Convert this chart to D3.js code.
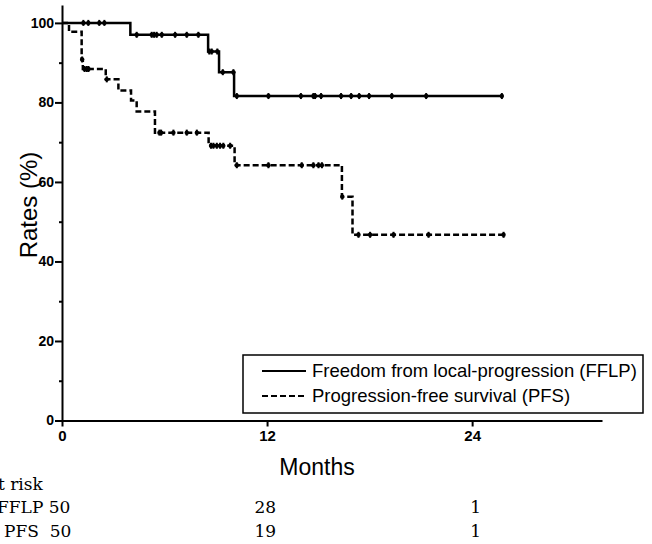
<!DOCTYPE html>
<html>
<head>
<meta charset="utf-8">
<script src="https://cdn.jsdelivr.net/npm/d3@7"></script>
<style>
  body { margin: 0; background: #fff; }
  svg { display: block; }
  .tick text { font-family: "Liberation Sans Narrow", "Arial Narrow", "Liberation Sans", sans-serif; font-weight: bold; }
</style>
</head>
<body>
<div id="chart"></div>
<script>
// Kaplan-Meier steps: [month, rate (%) after the event]
var fflpSteps = [[0, 100], [4.0, 97.0], [8.55, 92.8], [9.19, 87.6], [10.07, 81.6], [25.74, 81.6]];
var pfsSteps = [[0, 100], [0.41, 97.8], [1.15, 90.8], [1.22, 88.4], [2.56, 85.8], [3.30, 83.0],
                [4.04, 80.5], [4.37, 77.7], [5.44, 72.4], [8.58, 69.1], [10.10, 64.2],
                [16.38, 56.3], [17.0, 46.7], [25.84, 46.7]];

// censored observations (months)
var fflpCensored = [1.25, 1.54, 2.18, 2.48, 4.37, 5.25, 5.39, 5.54, 5.84, 6.62, 7.30, 7.98,
                    8.62, 8.76, 9.09, 9.41, 10.03, 10.23, 12.08, 13.98, 14.71, 14.81, 15.16,
                    16.33, 16.92, 17.39, 17.97, 19.30, 21.31, 25.74];
var pfsCensored = [1.18, 1.32, 1.45, 1.55, 2.62, 5.70, 5.80, 6.52, 7.30, 7.89, 8.72, 8.86,
                   9.06, 9.25, 9.44, 9.84, 10.23, 12.08, 14.03, 14.71, 15.01, 15.21, 16.40,
                   17.35, 18.03, 19.40, 21.45, 25.84];

var xTicks = [0, 12, 24];
var yTicks = [0, 20, 40, 60, 80, 100];
var yMinorTicks = [10, 30, 50, 70, 90];

var riskTimes = [12, 24];
var fflpAtRisk = [28, 1];
var pfsAtRisk = [19, 1];

var legendLabels = ["Freedom from local-progression (FFLP)", "Progression-free survival (PFS)"];

var width = 652, height = 544;

var svg = d3.select("#chart")
    .append("svg")
    .attr("width", width)
    .attr("height", height);

var x = d3.scaleLinear().domain([0, 31.6]).range([62, 602]);
var y = d3.scaleLinear().domain([0, 104.5]).range([420.5, 5]);

// axes
var yAxis = svg.append("g")
    .attr("transform", "translate(" + x(0) + ",0)")
    .call(d3.axisLeft(y).tickValues(yTicks).tickSize(7).tickPadding(1).tickSizeOuter(0));
yAxis.selectAll("text").style("font-size", "14px");

svg.append("g")
    .attr("transform", "translate(" + x(0) + ",0)")
    .call(d3.axisLeft(y).tickValues(yMinorTicks).tickSize(3).tickFormat(""))
    .select(".domain").remove();

var xAxis = svg.append("g")
    .attr("transform", "translate(0," + y(0) + ")")
    .call(d3.axisBottom(x).tickValues(xTicks).tickSize(6).tickPadding(4).tickSizeOuter(0));
xAxis.selectAll("text").style("font-size", "15px");

svg.selectAll(".domain, .tick line").attr("stroke", "#000").attr("stroke-width", 2);
svg.selectAll(".tick text").attr("fill", "#000");

// axis titles
svg.append("text")
    .attr("transform", "translate(37,205) rotate(-90)")
    .attr("text-anchor", "middle")
    .style("font-family", "'Liberation Sans', Arial, sans-serif")
    .style("font-size", "24px")
    .text("Rates (%)");

svg.append("text")
    .attr("x", 317)
    .attr("y", 475)
    .attr("text-anchor", "middle")
    .style("font-family", "'Liberation Sans', Arial, sans-serif")
    .style("font-size", "23px")
    .text("Months");

// curves
var line = d3.line()
    .x(function(d) { return x(d[0]); })
    .y(function(d) { return y(d[1]); })
    .curve(d3.curveStepAfter);

function rateAt(steps, t) {
    var v = steps[0][1];
    steps.forEach(function(s) { if (s[0] <= t) v = s[1]; });
    return v;
}

var series = [
    { steps: fflpSteps, censored: fflpCensored, dash: null },
    { steps: pfsSteps, censored: pfsCensored, dash: "6,3" }
];

series.forEach(function(s) {
    svg.append("path")
        .datum(s.steps)
        .attr("d", line)
        .attr("fill", "none")
        .attr("stroke", "#000")
        .attr("stroke-width", 2.5)
        .attr("stroke-dasharray", s.dash);

    var marks = svg.append("g").selectAll("g")
        .data(s.censored)
        .enter()
        .append("g")
        .attr("transform", function(d) { return "translate(" + x(d) + "," + y(rateAt(s.steps, d)) + ")"; });
    marks.append("line")
        .attr("y1", -3).attr("y2", 3)
        .attr("stroke", "#000").attr("stroke-width", 2);
    marks.append("circle")
        .attr("r", 2.2)
        .attr("fill", "#000");
});

// legend
var legend = svg.append("g");
legend.append("rect")
    .attr("x", 243).attr("y", 355)
    .attr("width", 400).attr("height", 58)
    .attr("fill", "#fff")
    .attr("stroke", "#000")
    .attr("stroke-width", 1.5);

legendLabels.forEach(function(label, i) {
    var ly = 371 + i * 25;
    legend.append("line")
        .attr("x1", 262).attr("x2", 306)
        .attr("y1", ly).attr("y2", ly)
        .attr("stroke", "#000")
        .attr("stroke-width", 2)
        .attr("stroke-dasharray", series[i].dash);
    legend.append("text")
        .attr("x", 312)
        .attr("y", ly + 6)
        .style("font-family", "'Liberation Sans', Arial, sans-serif")
        .style("font-size", "18.5px")
        .text(label);
});

// numbers at risk (left edge is cut off as in the original figure)
var serif = "'DejaVu Serif', 'Liberation Serif', serif";
svg.append("text")
    .attr("x", -14).attr("y", 490)
    .style("font-family", serif).style("font-size", "17px")
    .text("At risk");

var rows = [
    { label: "FFLP 50", x0: -3, values: fflpAtRisk, y: 513 },
    { label: "PFS  50", x0: 4, values: pfsAtRisk, y: 537 }
];

rows.forEach(function(r) {
    svg.append("text")
        .attr("x", r.x0).attr("y", r.y)
        .attr("xml:space", "preserve")
        .style("white-space", "pre")
        .style("font-family", serif).style("font-size", "17px")
        .text(r.label);
    svg.selectAll(null)
        .data(r.values)
        .enter()
        .append("text")
        .attr("x", function(d, i) { return x(riskTimes[i]) + 9; })
        .attr("y", r.y)
        .attr("text-anchor", "end")
        .style("font-family", serif).style("font-size", "17px")
        .text(function(d) { return d; });
});
</script>
</body>
</html>
